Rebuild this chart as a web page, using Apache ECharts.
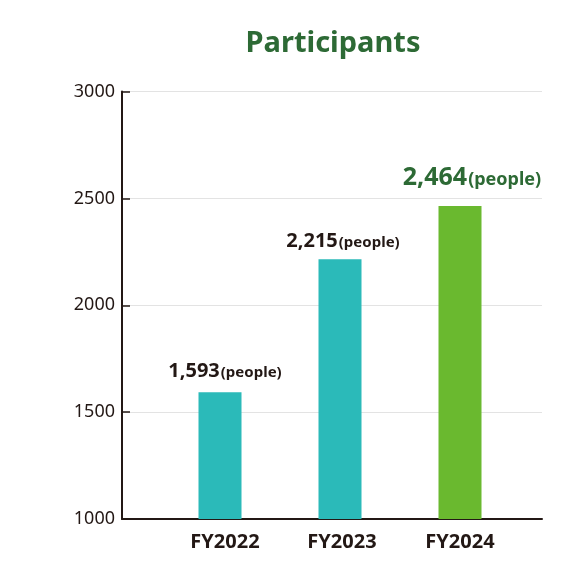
<!DOCTYPE html>
<html><head><meta charset="utf-8">
<script src="https://cdn.jsdelivr.net/npm/echarts@6/dist/echarts.min.js"></script>
<style>html,body{margin:0;padding:0;background:#fff}#c{width:572px;height:571px}</style>
</head><body><div id="c"></div>
<script>
const categories = ['FY2022', 'FY2023', 'FY2024'];
const participants = [1593, 2215, 2464];
const yTicks = [1000, 1500, 2000, 2500, 3000];

const FONT = '"Noto Sans", "Open Sans", sans-serif';
const barColors = ['#2bbab9', '#2bbab9', '#6ab92f'];
const labelOffsets = [[5, -2], [3, 1], [12, 0]];
const catLabelPad = [10, 4, 0];

const chart = echarts.init(document.getElementById('c'));
const fmt = v => v.toLocaleString('en-US');

chart.setOption({
  animation: false,
  backgroundColor: '#fff',
  title: {
    text: 'Participants', left: 328, textAlign: 'center', top: 24,
    textStyle: { fontFamily: FONT, fontSize: 29, fontWeight: 'bold', color: '#2d6a35' }
  },
  grid: [
    { left: 122, right: 30, top: 91.5, bottom: 52, containLabel: false },
    { left: 160, width: 360, top: 91.5, bottom: 52, containLabel: false }
  ],
  xAxis: [
    { gridIndex: 0, type: 'value', min: 0, max: 1, show: true,
      axisLine: { show: true, onZero: false, lineStyle: { color: '#231815', width: 2 } },
      axisTick: { show: false }, axisLabel: { show: false }, splitLine: { show: false } },
    { gridIndex: 1, type: 'category',
      data: categories.map((c, i) => ({ value: c, textStyle: { padding: [0, 0, 0, catLabelPad[i]] } })),
      axisLine: { show: false }, axisTick: { show: false },
      axisLabel: { margin: 13, fontFamily: FONT, fontSize: 20, fontWeight: 'bold', color: '#231815' } }
  ],
  yAxis: [
    { gridIndex: 0, type: 'value', min: yTicks[0], max: yTicks[yTicks.length - 1], interval: 500,
      axisLine: { show: true, lineStyle: { color: '#231815', width: 2 } },
      axisTick: { show: true, inside: true, length: 8, lineStyle: { color: '#231815', width: 1.5 } },
      axisLabel: { margin: 7, fontFamily: FONT, fontSize: 18, color: '#231815', formatter: v => String(v) },
      splitLine: { show: true, lineStyle: { color: '#e3e3e3', width: 1 } } },
    { gridIndex: 1, type: 'value', min: yTicks[0], max: yTicks[yTicks.length - 1], show: false }
  ],
  series: [{
    type: 'bar', xAxisIndex: 1, yAxisIndex: 1, barWidth: 43,
    data: participants.map((v, i) => ({
      value: v,
      itemStyle: { color: barColors[i] },
      label: i === 2 ? {
        distance: 16, offset: labelOffsets[i],
        formatter: p => '{bn|' + fmt(p.value) + '}{bp|(people)}'
      } : { offset: labelOffsets[i] }
    })),
    label: {
      show: true, position: 'top', distance: 9,
      formatter: p => '{n|' + fmt(p.value) + '}{p|(people)}',
      rich: {
        n: { fontFamily: FONT, fontSize: 20, fontWeight: 'bold', color: '#231815' },
        p: { fontFamily: FONT, fontSize: 15, fontWeight: 'bold', color: '#231815', padding: [3, 0, 0, 1] },
        bn: { fontFamily: FONT, fontSize: 25, fontWeight: 'bold', color: '#2d6a35' },
        bp: { fontFamily: FONT, fontSize: 18, fontWeight: 'bold', color: '#2d6a35', padding: [4, 0, 0, 1] }
      }
    }
  }]
});
</script></body></html>
